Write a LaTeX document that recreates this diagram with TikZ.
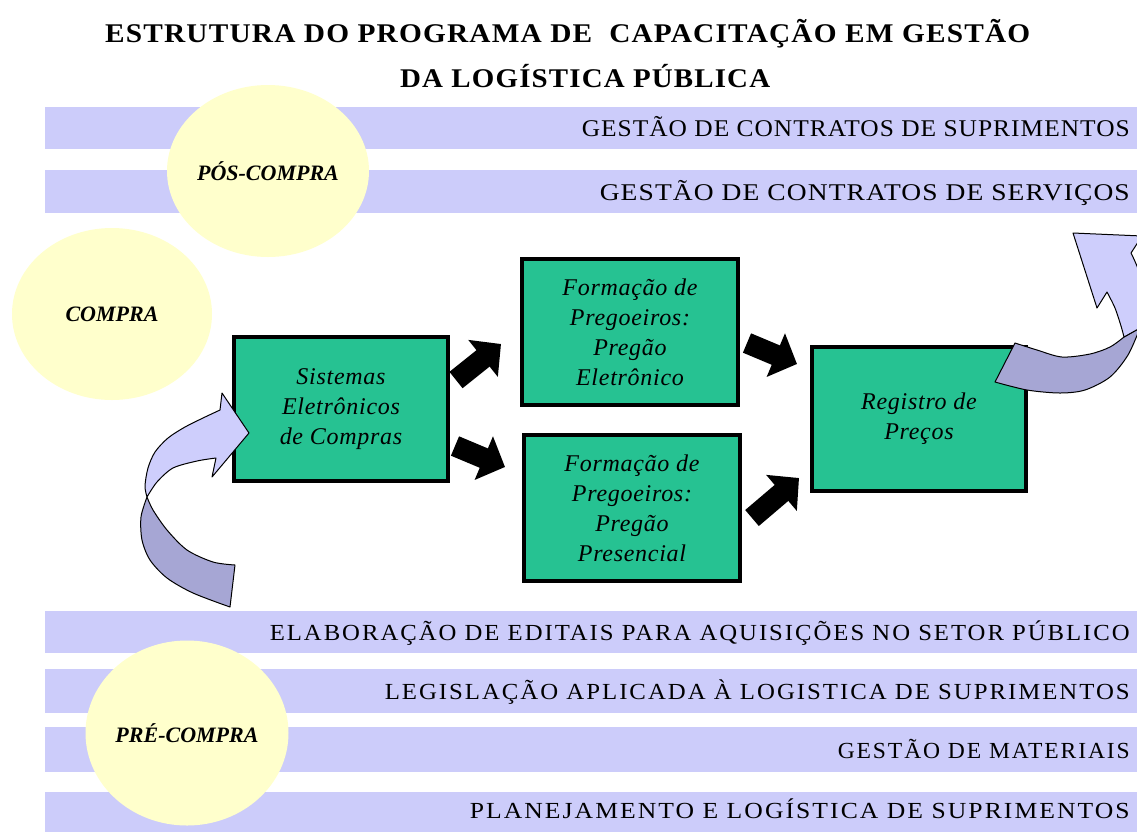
\documentclass[tikz,border=0pt]{standalone}
\usepackage{fontspec}
\setmainfont{Liberation Serif}
\newfontfamily\bandfont[LetterSpace=4]{Liberation Serif}
\newfontfamily\lowbandfont[LetterSpace=8]{Liberation Serif}
\newfontfamily\ttlfont[LetterSpace=4]{Liberation Serif}
\newfontfamily\boxfont[LetterSpace=3]{Liberation Serif}
\usetikzlibrary{arrows.meta,shapes.geometric}
\definecolor{bandcol}{RGB}{204,204,250}
\definecolor{arrlightcol}{RGB}{206,206,252}
\definecolor{arrdarkcol}{RGB}{166,166,212}
\definecolor{phasecol}{RGB}{255,255,204}
\definecolor{boxcol}{RGB}{38,194,146}
\newcommand{\fitw}[2]{\resizebox{#1}{\height}{#2}}
\begin{document}
\begin{tikzpicture}[x=1pt,y=-1pt,
  bandtext/.style={anchor=base east, inner sep=0pt, font=\bandfont\fontsize{24}{28}\selectfont},
  lowbandtext/.style={anchor=base east, inner sep=0pt, font=\lowbandfont\fontsize{23}{28}\selectfont},
  titletext/.style={anchor=base west, inner sep=0pt, font=\ttlfont\bfseries\fontsize{27}{30}\selectfont},
  phase/.style={ellipse, fill=phasecol, inner sep=0pt, font=\fontsize{22}{26}\selectfont\bfseries\itshape},
  stepbox/.style={draw=black, line width=4pt, fill=boxcol, inner sep=0pt, align=center, font=\boxfont\itshape\fontsize{24}{30}\selectfont},
  blockarrow/.style={draw=black, line width=21pt, -{Triangle[length=23pt,width=46pt]}},
  arrlight/.style={fill=arrlightcol, draw=black, line width=1pt, line join=round},
  arrdark/.style={fill=arrdarkcol, draw=black, line width=1pt, line join=round}]
\useasboundingbox (0,0) rectangle (1137,831);
\clip (0,0) rectangle (1137,831);
\fill[white] (0,0) rectangle (1137,831);
% bands
\fill[bandcol] (45,107) rectangle (1137,149);
\fill[bandcol] (45,170) rectangle (1137,213);
\fill[bandcol] (45,611) rectangle (1137,653);
\fill[bandcol] (45,669) rectangle (1137,713);
\fill[bandcol] (45,727) rectangle (1137,772);
\fill[bandcol] (45,792) rectangle (1137,840);
% phases
\node[phase, minimum width=202pt, minimum height=172pt] (pos) at (268,171) {PÓS-COMPRA};
\node[phase, minimum width=200pt, minimum height=172pt] (compra) at (112,314) {COMPRA};
\node[phase, minimum width=203pt, minimum height=185pt] (pre) at (187,733) {PRÉ-COMPRA};
% band texts
\node[bandtext] (b1) at (1130,136) {\fitw{548pt}{GESTÃO DE CONTRATOS DE SUPRIMENTOS}};
\node[bandtext] (b2) at (1130,200) {\fitw{530pt}{GESTÃO DE CONTRATOS DE SERVIÇOS}};
\node[lowbandtext] (b3) at (1130,640) {\fitw{860pt}{ELABORAÇÃO DE EDITAIS PARA AQUISIÇÕES NO SETOR PÚBLICO}};
\node[lowbandtext] (b4) at (1130,699) {\fitw{745pt}{LEGISLAÇÃO APLICADA À LOGISTICA DE SUPRIMENTOS}};
\node[lowbandtext] (b5) at (1130,758) {\fitw{292pt}{GESTÃO DE MATERIAIS}};
\node[lowbandtext] (b6) at (1130,818) {\fitw{660pt}{PLANEJAMENTO E LOGÍSTICA DE SUPRIMENTOS}};
% titles
\node[titletext] (t1) at (105,42) {\fitw{925pt}{ESTRUTURA DO PROGRAMA DE\ \ CAPACITAÇÃO EM GESTÃO}};
\node[titletext] (t2) at (400,87) {\fitw{370pt}{DA LOGÍSTICA PÚBLICA}};
% boxes
\node[stepbox, minimum width=214pt, minimum height=144pt] (sis) at (341,409) {Sistemas\\Eletrônicos\\de Compras};
\node[stepbox, minimum width=216pt, minimum height=146pt] (ele) at (630,332) {Formação de\\Pregoeiros:\\Pregão\\Eletrônico};
\node[stepbox, minimum width=216pt, minimum height=146pt] (pres) at (632,508) {Formação de\\Pregoeiros:\\Pregão\\Presencial};
\node[stepbox, minimum width=214pt, minimum height=144pt] (reg) at (919,419) {Registro de\\Preços};
% black arrows
\coordinate (a1s) at (456,380); \coordinate (a1e) at (501,344);
\coordinate (a2s) at (455,446); \coordinate (a2e) at (505,467);
\coordinate (a3s) at (747,343); \coordinate (a3e) at (797,364);
\coordinate (a4s) at (752,518); \coordinate (a4e) at (799,478);
\draw[blockarrow] (a1s) -- (a1e);
\draw[blockarrow] (a2s) -- (a2e);
\draw[blockarrow] (a3s) -- (a3e);
\draw[blockarrow] (a4s) -- (a4e);
% left curved arrow
\filldraw[arrdark] plot[smooth] coordinates {(147,497) (141,517) (142,540) (150,560) (167,578) (193,593) (230,607)} -- (235,565) -- plot[smooth] coordinates {(235,565) (213,562) (187,550) (167,530) (153,510) (147,497)} -- cycle;
\filldraw[arrlight] plot[smooth] coordinates {(147,497) (145,486) (148,468) (155,452) (168,438) (185,427) (203,418) (220,410)} -- (222,393) -- (249,433) -- (212,477) -- (216,458) -- plot[smooth] coordinates {(216,458) (197,461) (173,468) (157,482) (147,497)} -- cycle;
% right curved arrow
\filldraw[arrdark] plot[smooth] coordinates {(1015,343) (1037,350) (1062,357) (1090,354) (1110,347) (1124,337)} -- (1140,328) -- plot[smooth] coordinates {(1140,328) (1128,355) (1110,377) (1085,390) (1060,393) (1027,390) (995,382)} -- cycle;
\filldraw[arrlight] plot[smooth] coordinates {(1124,337) (1121,326) (1115,308) (1107,292)} -- (1097,308) -- (1073,233) -- (1142,236) -- (1131,253) -- plot[smooth] coordinates {(1131,253) (1139,272) (1143,300) (1140,328)} -- cycle;
\end{tikzpicture}
\end{document}
